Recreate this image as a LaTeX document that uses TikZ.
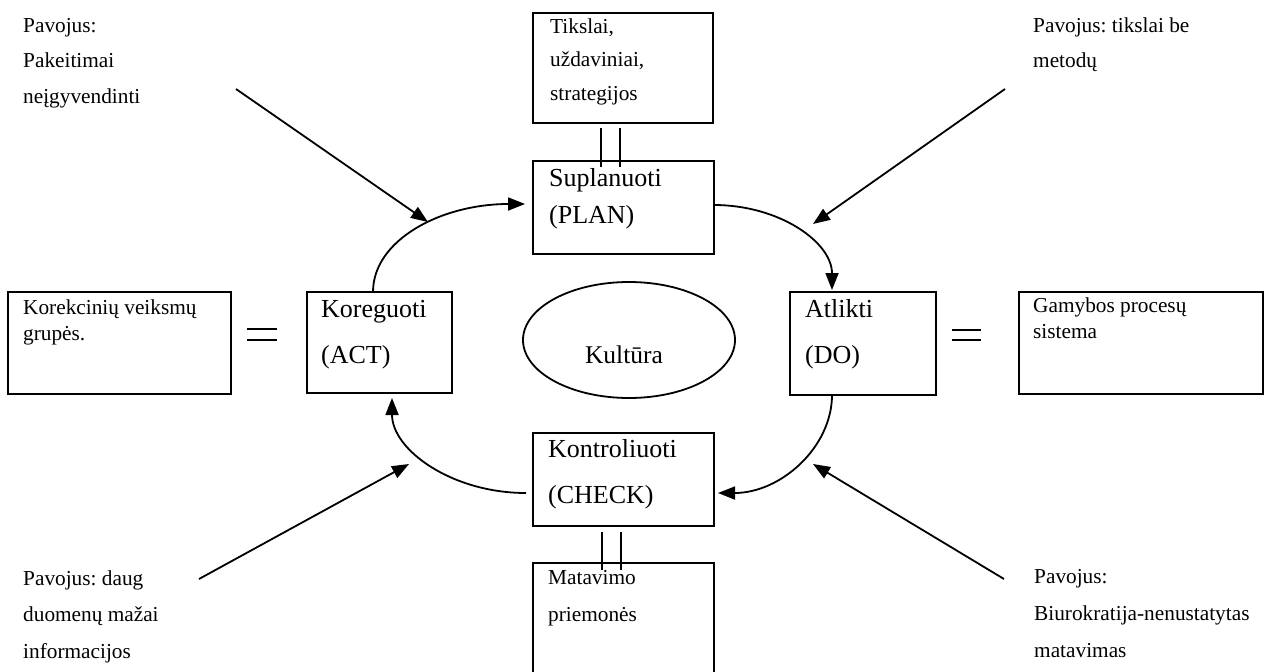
\documentclass[tikz,border=0pt]{standalone}
\usepackage{fontspec}
\setmainfont{Liberation Serif}
\usetikzlibrary{arrows.meta,calc,shapes.geometric}

\begin{document}
\frenchspacing
\begin{tikzpicture}[x=1pt,y=-1pt,
  frame/.style={draw, line width=2.4pt, rectangle, inner sep=0pt, outer sep=0pt, anchor=north west},
  % multi-line texts are placed by the baseline of their last line
  smalltext/.style={align=left, anchor=base west, inner sep=0pt,
    font=\fontsize{21.3}{#1}\selectfont},
  bigtext/.style={align=left, anchor=base west, inner sep=0pt,
    font=\fontsize{26}{#1}\selectfont},
  flow/.style={line width=1.8pt, -{Triangle[length=17pt,width=13pt]}},
  hazard/.style={line width=1.8pt, -{Triangle[length=17pt,width=13pt]}},
  link/.style={line width=1.8pt},
  equals/.style={line width=2.4pt}
]
\useasboundingbox (0,0) rectangle (1267,672);
\clip (0,0) rectangle (1267,672);

% cycle boxes
\node[frame, minimum width=181pt, minimum height=93pt] (plan) at (533,161) {};
\node[frame, minimum width=145pt, minimum height=101pt] (act) at (307,292) {};
\node[frame, minimum width=146pt, minimum height=103pt] (do) at (790,292) {};
\node[frame, minimum width=181pt, minimum height=93pt] (check) at (533,433) {};

\node[bigtext=37.7pt] (plantext) at ($(plan.north west)+(16,62.7)$) {Suplanuoti\\(PLAN)};
\node[bigtext=46pt] (acttext) at ($(act.north west)+(14,71)$) {Koreguoti\\(ACT)};
\node[bigtext=46pt] (dotext) at ($(do.north west)+(15,71)$) {Atlikti\\(DO)};
\node[bigtext=46pt] (checktext) at ($(check.north west)+(15,70)$) {Kontroliuoti\\(CHECK)};

% side boxes
\node[frame, minimum width=180pt, minimum height=110pt] (goals) at (533,13) {};
\node[frame, minimum width=223pt, minimum height=102pt] (groups) at (8,292) {};
\node[frame, minimum width=244pt, minimum height=102pt] (production) at (1019,292) {};
\node[frame, minimum width=181pt, minimum height=140pt] (measure) at (533,563) {};

\node[smalltext=33.5pt] (goalstext) at ($(goals.north west)+(17,87)$) {Tikslai,\\uždaviniai,\\strategijos};
\node[smalltext=26pt] (groupstext) at ($(groups.north west)+(15,48)$) {Korekcinių veiksmų\\grupės.};
\node[smalltext=26pt] (productiontext) at ($(production.north west)+(14,46)$) {Gamybos procesų\\sistema};
\node[smalltext=37pt] (measuretext) at ($(measure.north west)+(15,58)$) {Matavimo\\priemonės};

% culture in the centre
\node[draw, ellipse, line width=1.8pt, minimum width=212pt, minimum height=116pt, inner sep=0pt] (culture) at (629,340) {};
\node[anchor=base, inner sep=0pt, font=\fontsize{25.5}{30}\selectfont] (culturetext) at (624,363) {Kultūra};

% hazard notes
\node[smalltext=35.5pt] (hazardtl) at (23,103) {Pavojus:\\Pakeitimai\\neįgyvendinti};
\node[smalltext=35.5pt] (hazardtr) at (1033,67.5) {Pavojus: tikslai be\\metodų};
\node[smalltext=36.5pt] (hazardbl) at (23,658) {Pavojus: daug\\duomenų mažai\\informacijos};
\node[smalltext=37pt] (hazardbr) at (1034,657) {Pavojus:\\Biurokratija-nenustatytas\\matavimas};

% PDCA cycle
\draw[flow] ($(act.north west)+(66,0)$) .. controls +(0,-52) and +(-84,0) .. ($(plan.north west)+(-8,43)$);
\draw[flow] ($(plan.north east)+(0,44)$) .. controls +(65,0) and +(0,-48) .. ($(do.north west)+(42,-2)$);
\draw[flow] ($(do.south west)+(42,0)$) .. controls +(0,52) and +(63,0) .. ($(check.north east)+(4,60)$);
\draw[flow] ($(check.north west)+(-7,60)$) .. controls +(-74,0) and +(0,52) .. ($(act.south west)+(85,5)$);

% hazard arrows
\coordinate (tlfrom) at (236,89);   \coordinate (tlto) at (428,222);
\coordinate (trfrom) at (1005,89);  \coordinate (trto) at (813,224);
\coordinate (blfrom) at (199,579);  \coordinate (blto) at (409,464);
\coordinate (brfrom) at (1004,579); \coordinate (brto) at (813,464);
\draw[hazard] (tlfrom) -- (tlto);
\draw[hazard] (trfrom) -- (trto);
\draw[hazard] (blfrom) -- (blto);
\draw[hazard] (brfrom) -- (brto);

% double links to goals and measures
\draw[link] ($(goals.south west)+(68,5)$) -- ($(plan.north west)+(68,6)$);
\draw[link] ($(goals.south west)+(87,5)$) -- ($(plan.north west)+(87,6)$);
\draw[link] ($(check.south west)+(69,6)$) -- ($(measure.north west)+(69,7)$);
\draw[link] ($(check.south west)+(88,6)$) -- ($(measure.north west)+(88,7)$);

% equality signs
\draw[equals] ($(groups.north east)+(16,37)$) -- ++(30,0);
\draw[equals] ($(groups.north east)+(16,48)$) -- ++(30,0);
\draw[equals] ($(do.north east)+(16,38)$) -- ++(29,0);
\draw[equals] ($(do.north east)+(16,48)$) -- ++(29,0);
\end{tikzpicture}
\end{document}
